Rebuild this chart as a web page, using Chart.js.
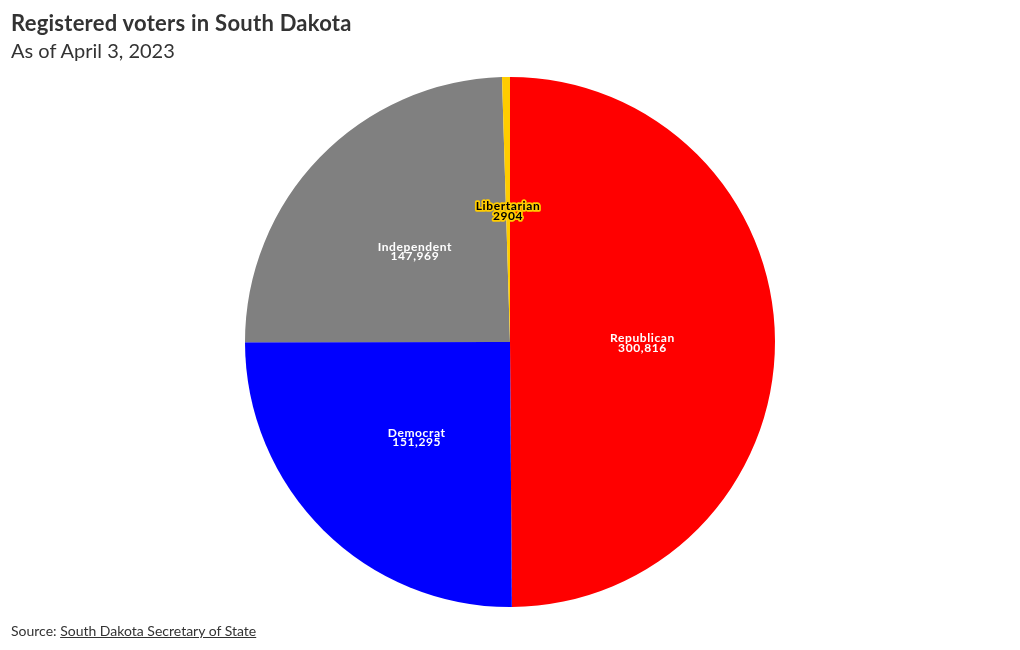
<!DOCTYPE html>
<html><head><meta charset="utf-8">
<script src="https://cdn.jsdelivr.net/npm/chart.js@4/dist/chart.umd.min.js"></script>
<style>
html,body{margin:0;padding:0;background:#fff;width:1020px;height:650px;overflow:hidden;font-family:"Source Sans Pro",Lato,"Open Sans",sans-serif;}
#wrap{position:absolute;left:0;top:0;width:1020px;height:650px;}
#title{position:absolute;left:11px;top:9px;font-size:22px;font-weight:bold;color:#333;letter-spacing:0.25px;}
#sub{position:absolute;left:11px;top:38px;font-size:20px;color:#333;}
#src{position:absolute;left:11px;top:622px;font-size:14px;color:#333;}
#src span{text-decoration:underline;}
</style></head>
<body>
<div id="wrap"><canvas id="c" width="1020" height="650"></canvas></div>
<div id="title">Registered voters in South Dakota</div>
<div id="sub">As of April 3, 2023</div>
<div id="src">Source: <span>South Dakota Secretary of State</span></div>
<script>
const categories = ["Republican", "Democrat", "Independent", "Libertarian"];
const voters = [300816, 151295, 147969, 2904];
const valueLabels = ["300,816", "151,295", "147,969", "2904"];
const colors = ["#ff0000", "#0000ff", "#808080", "#ffcc00"];

const labelPlugin = {
  id: 'sliceLabels',
  afterDatasetsDraw(chart) {
    const ctx = chart.ctx;
    const meta = chart.getDatasetMeta(0);
    meta.data.forEach((arc, i) => {
      const p = arc.getCenterPoint();
      ctx.save();
      ctx.font = 'bold 12px "Source Sans Pro", Lato, "Open Sans", sans-serif';
      ctx.letterSpacing = '0.6px';
      ctx.textAlign = 'center';
      ctx.textBaseline = 'middle';
      const lines = [categories[i], valueLabels[i]];
      const ys = [p.y - 3, p.y + 6.5];
      if (i === 3) {
        ctx.lineJoin = 'round';
        ctx.lineWidth = 3.5;
        ctx.strokeStyle = '#ffcc00';
        lines.forEach((t, k) => ctx.strokeText(t, p.x, ys[k]));
        ctx.fillStyle = '#000';
      } else {
        ctx.fillStyle = '#fff';
      }
      lines.forEach((t, k) => ctx.fillText(t, p.x, ys[k]));
      ctx.restore();
    });
  }
};

new Chart(document.getElementById('c'), {
  type: 'pie',
  data: {
    labels: categories,
    datasets: [{ data: voters, backgroundColor: colors, borderWidth: 0 }]
  },
  options: {
    responsive: false,
    animation: false,
    layout: { padding: { top: 77, bottom: 43, left: 0, right: 0 } },
    plugins: { legend: { display: false }, tooltip: { enabled: false } }
  },
  plugins: [labelPlugin]
});
</script>
</body></html>
